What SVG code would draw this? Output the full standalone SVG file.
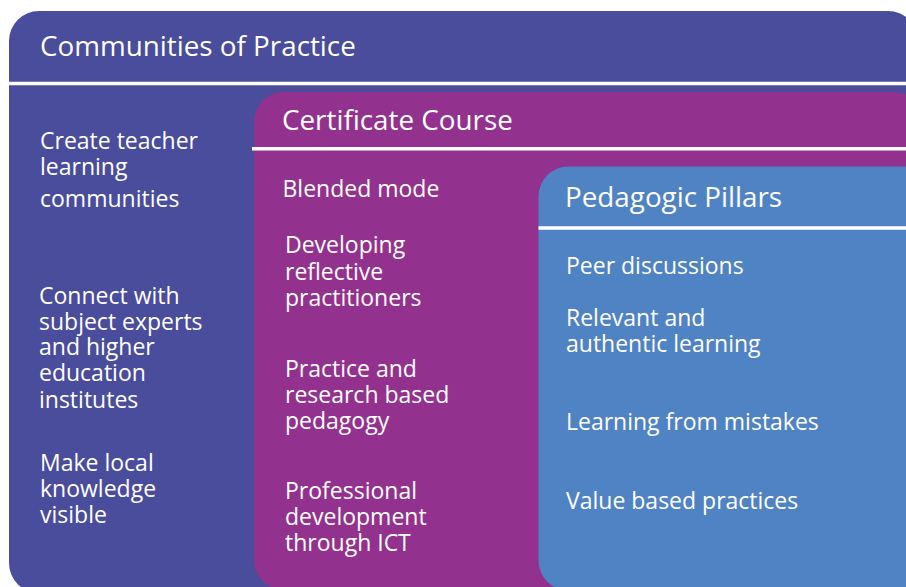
<svg xmlns="http://www.w3.org/2000/svg" width="906" height="587" viewBox="0 0 906 587">
<style>
  .t { font-family: "Open Sans", "Noto Sans", sans-serif; fill: #ffffff; }
  .title { font-size: 27.8px; }
  .body { font-size: 23px; }
  .rule { stroke: #ffffff; stroke-width: 3.5; }
</style>
<rect width="906" height="587" fill="#ffffff"/>
<g id="communities">
  <rect x="9" y="11" width="909" height="582" rx="30" ry="30" fill="#4a4c9c"/>
  <line class="rule" x1="9" y1="83.5" x2="906" y2="83.5"/>
  <text class="t title" x="40" y="56">Communities of Practice</text>
  <text class="t body" x="40" y="149">Create teacher</text>
  <text class="t body" x="40" y="175">learning</text>
  <text class="t body" x="40" y="207">communities</text>
  <text class="t body" x="39" y="304">Connect with</text>
  <text class="t body" x="39" y="329.5">subject experts</text>
  <text class="t body" x="39" y="355">and higher</text>
  <text class="t body" x="39" y="381">education</text>
  <text class="t body" x="39" y="407.5">institutes</text>
  <text class="t body" x="40" y="471">Make local</text>
  <text class="t body" x="40" y="497">knowledge</text>
  <text class="t body" x="40" y="522.5">visible</text>
</g>
<g id="certificate">
  <rect x="254" y="92" width="670" height="498" rx="30" ry="30" fill="#93328e"/>
  <line class="rule" x1="252" y1="148.7" x2="906" y2="148.7"/>
  <text class="t title" x="282" y="130">Certificate Course</text>
  <text class="t body" x="282.5" y="197">Blended mode</text>
  <text class="t body" x="285" y="253">Developing</text>
  <text class="t body" x="285" y="280">reflective</text>
  <text class="t body" x="285" y="306">practitioners</text>
  <text class="t body" x="285" y="376.5">Practice and</text>
  <text class="t body" x="285" y="402.5">research based</text>
  <text class="t body" x="285" y="429">pedagogy</text>
  <text class="t body" x="285" y="499">Professional</text>
  <text class="t body" x="285" y="525">development</text>
  <text class="t body" x="285" y="550.5">through ICT</text>
</g>
<g id="pillars">
  <rect x="538.5" y="166.5" width="400" height="424" rx="30" ry="30" fill="#5083c4"/>
  <line class="rule" x1="538.5" y1="228" x2="906" y2="228"/>
  <text class="t title" x="565" y="206.5">Pedagogic Pillars</text>
  <text class="t body" x="566" y="274">Peer discussions</text>
  <text class="t body" x="566" y="325.5">Relevant and</text>
  <text class="t body" x="566" y="351.5">authentic learning</text>
  <text class="t body" x="566" y="430">Learning from mistakes</text>
  <text class="t body" x="566" y="509">Value based practices</text>
</g>
</svg>
